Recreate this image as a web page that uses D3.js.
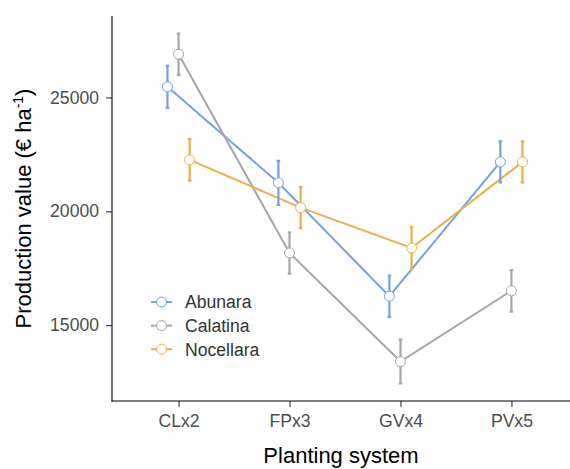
<!DOCTYPE html>
<html>
<head>
<meta charset="utf-8">
<script src="https://cdn.jsdelivr.net/npm/d3@7"></script>
<style>
  body { margin: 0; background: #fff; }
  svg { display: block; font-family: "Liberation Sans", Arial, sans-serif; }
</style>
</head>
<body>
<div id="chart"></div>
<script>
'use strict';

// ---- data
var categories = ['CLx2', 'FPx3', 'GVx4', 'PVx5'];
var cultivars = ['Abunara', 'Calatina', 'Nocellara'];
var abunara   = [25470, 21250, 16270, 22170];
var calatina  = [26900, 18170, 13400, 16510];
var nocellara = [22260, 20160, 18390, 22170];
var abunaraSE   = [926, 963, 910, 904];
var calatinaSE  = [910, 910, 963, 913];
var nocellaraSE = [913, 904, 933, 898];
var yTicks = [15000, 20000, 25000];

var colors = ['#73a2e8', '#a6a6a6', '#e9b04c'];

var width = 570, height = 469,
    plotLeft = 112, plotTop = 16, plotBottom = 401, plotRight = 578;

var series = [abunara, calatina, nocellara].map(function(vals, k){
    var se = [abunaraSE, calatinaSE, nocellaraSE][k];
    return {
        name: cultivars[k],
        color: colors[k],
        values: vals.map(function(v, i){ return {cat: categories[i], v: v, se: se[i]}; })
    };
});

var svg = d3.select('#chart').append('svg')
    .attr('width', width)
    .attr('height', height);

var x = d3.scalePoint().domain(categories).range([plotLeft, plotRight]).padding(0.6);

// y range like ggplot: data extent (with error bars) expanded by 5%
var lo = d3.min(series, function(s){ return d3.min(s.values, function(d){ return d.v - d.se; }); }),
    hi = d3.max(series, function(s){ return d3.max(s.values, function(d){ return d.v + d.se; }); }),
    pad = (hi - lo) * 0.05;
var y = d3.scaleLinear().domain([lo - pad, hi + pad]).range([plotBottom, plotTop]);

var dodge = x.step() * 0.1;
var px = function(d, k){ return x(d.cat) + (k - 1) * dodge; };

// ================ axes
var yAxis = svg.append('g')
    .attr('transform', 'translate(' + plotLeft + ',0)')
    .call(d3.axisLeft(y).tickValues(yTicks).tickSize(6).tickPadding(7).tickFormat(d3.format('d')));
var xAxis = svg.append('g')
    .attr('transform', 'translate(0,' + plotBottom + ')')
    .call(d3.axisBottom(x).tickSize(6).tickPadding(8));

[yAxis, xAxis].forEach(function(ax){
    ax.select('.domain').remove();
    ax.selectAll('.tick line').attr('stroke', '#333').attr('stroke-width', 1.1);
    ax.selectAll('.tick text').attr('fill', '#4d4d4d').style('font-size', '17.6px')
        .style('font-family', '"Liberation Sans", Arial, sans-serif');
});

svg.append('line')
    .attr('x1', plotLeft).attr('x2', plotLeft).attr('y1', plotTop).attr('y2', plotBottom + 0.5)
    .attr('stroke', '#000').attr('stroke-width', 1.1);
svg.append('line')
    .attr('x1', plotLeft - 0.5).attr('x2', width).attr('y1', plotBottom).attr('y2', plotBottom)
    .attr('stroke', '#000').attr('stroke-width', 1.1);

// axis titles
svg.append('text')
    .attr('x', (plotLeft + width) / 2)
    .attr('y', 463)
    .attr('text-anchor', 'middle')
    .attr('font-size', '22px')
    .attr('fill', '#000')
    .text('Planting system');

var yTitle = svg.append('text')
    .attr('transform', 'translate(31,' + ((plotTop + plotBottom) / 2) + ') rotate(-90)')
    .attr('text-anchor', 'middle')
    .attr('font-size', '22px')
    .attr('fill', '#000');
yTitle.append('tspan').text('Production value (€ ha');
yTitle.append('tspan').attr('font-size', '14px').attr('dy', '-8').text('-1');
yTitle.append('tspan').attr('dy', '8').text(')');

// ================ lines
var line = d3.line()
    .x(function(d){ return d.px; })
    .y(function(d){ return y(d.v); });

series.forEach(function(s, k){
    s.values.forEach(function(d){ d.px = px(d, k); });
});

svg.append('g').selectAll('path')
    .data(series).enter().append('path')
    .attr('d', function(s){ return line(s.values); })
    .attr('fill', 'none')
    .attr('stroke', function(s){ return s.color; })
    .attr('stroke-width', 2);

// ================ error bars
var bars = svg.append('g').selectAll('g')
    .data(series).enter().append('g')
    .attr('stroke', function(s){ return s.color; })
    .attr('stroke-width', 2.2);
bars.selectAll('path')
    .data(function(s){ return s.values; }).enter().append('path')
    .attr('fill', 'none')
    .attr('d', function(d){
        var cx = d.px, t = y(d.v + d.se), b = y(d.v - d.se), w = 1.8;
        return 'M' + cx + ',' + t + 'V' + b +
               'M' + (cx - w) + ',' + t + 'H' + (cx + w) +
               'M' + (cx - w) + ',' + b + 'H' + (cx + w);
    });

// ================ points
var pts = svg.append('g').selectAll('g')
    .data(series).enter().append('g');
pts.selectAll('circle')
    .data(function(s){ return s.values.map(function(d){ return {d: d, color: s.color}; }); })
    .enter().append('circle')
    .attr('cx', function(o){ return o.d.px; })
    .attr('cy', function(o){ return y(o.d.v); })
    .attr('r', 5)
    .attr('fill', '#fff')
    .attr('stroke', function(o){ return o.color; })
    .attr('stroke-width', 1);

// ================ legend
var legend = svg.append('g').attr('transform', 'translate(151,302)');
var items = legend.selectAll('g')
    .data(series).enter().append('g')
    .attr('transform', function(s, i){ return 'translate(0,' + (i * 23.6) + ')'; });
items.append('line')
    .attr('x1', 0).attr('x2', 21)
    .attr('stroke', function(s){ return s.color; })
    .attr('stroke-width', 2);
items.append('circle')
    .attr('cx', 10.5).attr('r', 5)
    .attr('fill', '#fff')
    .attr('stroke', function(s){ return s.color; })
    .attr('stroke-width', 1);
items.append('text')
    .attr('x', 34)
    .attr('dy', '0.36em')
    .attr('font-size', '17.6px')
    .attr('fill', '#333')
    .text(function(s){ return s.name; });
</script>
</body>
</html>
